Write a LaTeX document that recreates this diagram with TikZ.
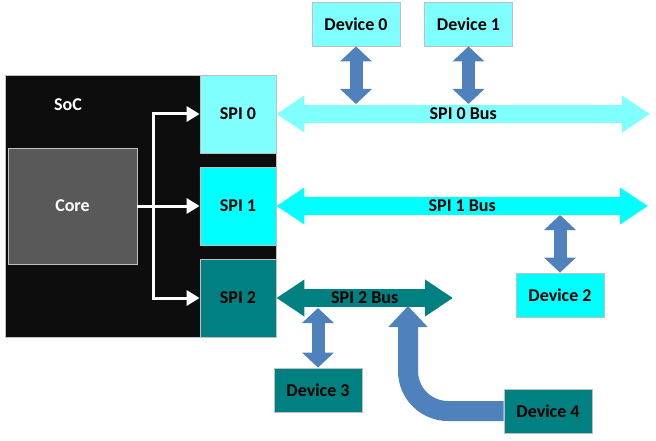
\documentclass[tikz,border=0pt]{standalone}
\usepackage{fontspec}
\setmainfont{Carlito}
\usetikzlibrary{arrows.meta,calc}
\pgfdeclarelayer{background}
\pgfdeclarelayer{foreground}
\pgfsetlayers{background,main,foreground}

\definecolor{SocBlack}{HTML}{0D0D0D}
\definecolor{CoreGray}{HTML}{595959}
\definecolor{PaleCyan}{HTML}{80FFFF}
\definecolor{FullCyan}{HTML}{00FFFF}
\definecolor{DarkTeal}{HTML}{008080}
\definecolor{LinkBlue}{HTML}{4F81BD}
\definecolor{EdgeGray}{HTML}{C0C0C0}

\tikzset{
  box/.style={draw=EdgeGray, line width=0.8pt, inner sep=0pt,
    font=\fontsize{18}{21}\selectfont\bfseries},
  spibox/.style={box, minimum width=76pt, minimum height=78pt},
  devbox/.style={box, minimum width=88pt, minimum height=44pt},
  bus/.style={line width=18pt,
    {Triangle[width=35pt,length=28pt]}-{Triangle[width=35pt,length=28pt]}},
  link/.style={draw=LinkBlue, line width=13pt,
    {Triangle[width=31pt,length=15pt]}-{Triangle[width=31pt,length=15pt]}},
  wire/.style={draw=white, line width=3pt, -{Triangle[width=15pt,length=13pt]}},
  buslabel/.style={text=black, font=\fontsize{18}{21}\selectfont\bfseries}
}

\begin{document}
\begin{tikzpicture}[x=1pt,y=-1pt]
\useasboundingbox (0,0) rectangle (656,441);

\begin{pgfonlayer}{background}
  \node[box, fill=SocBlack, minimum width=271pt, minimum height=262pt] (SoC) at (140.5,206) {};
\end{pgfonlayer}
\node[text=white, font=\fontsize{18}{21}\selectfont\bfseries] (SocLabel) at (68,105) {SoC};
\node[box, fill=CoreGray, text=white, minimum width=129pt, minimum height=116pt] (Core) at (72.5,206) {Core};

% controller blocks
\node[spibox, fill=PaleCyan] (SpiZero) at (238,114) {SPI 0};
\node[spibox, fill=FullCyan] (SpiOne)  at (238,206) {SPI 1};
\node[spibox, fill=DarkTeal] (SpiTwo)  at (238,298) {SPI 2};

% devices
\node[devbox, fill=PaleCyan] (DevZero)  at (356,24) {Device 0};
\node[devbox, fill=PaleCyan] (DevOne)   at (468.5,24) {Device 1};
\node[devbox, fill=FullCyan] (DevTwo)   at (560,295) {Device 2};
\node[devbox, fill=DarkTeal] (DevThree) at (318,390) {Device 3};
\begin{pgfonlayer}{foreground}
  \node[devbox, fill=DarkTeal] (DevFour) at (548,411) {Device 4};
\end{pgfonlayer}

% core to controllers
\coordinate (Fork) at (153,206);
\draw[wire] (Core.east) -- (SpiOne.west);
\draw[wire] (Fork) |- (SpiZero.west);
\draw[wire] (Fork) |- (SpiTwo.west);

% buses
\coordinate (BusZeroEnd) at (650,114);
\coordinate (BusOneEnd)  at (648,206);
\coordinate (BusTwoEnd)  at (453,298);
\draw[bus, draw=PaleCyan] (SpiZero.east) -- (BusZeroEnd) node[midway, buslabel] {SPI 0 Bus};
\draw[bus, draw=FullCyan] (SpiOne.east) -- (BusOneEnd) node[midway, buslabel] {SPI 1 Bus};
\draw[bus, draw=DarkTeal] (SpiTwo.east) -- (BusTwoEnd) node[midway, buslabel] {SPI 2 Bus};

% device taps
\coordinate (TapZero)  at (356,104);
\coordinate (TapOne)   at (468.5,104);
\coordinate (TapTwo)   at (560,215);
\coordinate (TapThree) at (318,308);
\coordinate (TapFour)  at (408,306);
\draw[link] (DevZero.south) -- (TapZero);
\draw[link] (DevOne.south) -- (TapOne);
\draw[link] (TapTwo) -- (DevTwo.north);
\draw[link] (TapThree) -- (DevThree.north);
\draw[draw=LinkBlue, line width=20pt, rounded corners=40pt, -{Triangle[width=38pt,length=21pt]}]
  (DevFour.west) -| (TapFour);
\end{tikzpicture}
\end{document}
